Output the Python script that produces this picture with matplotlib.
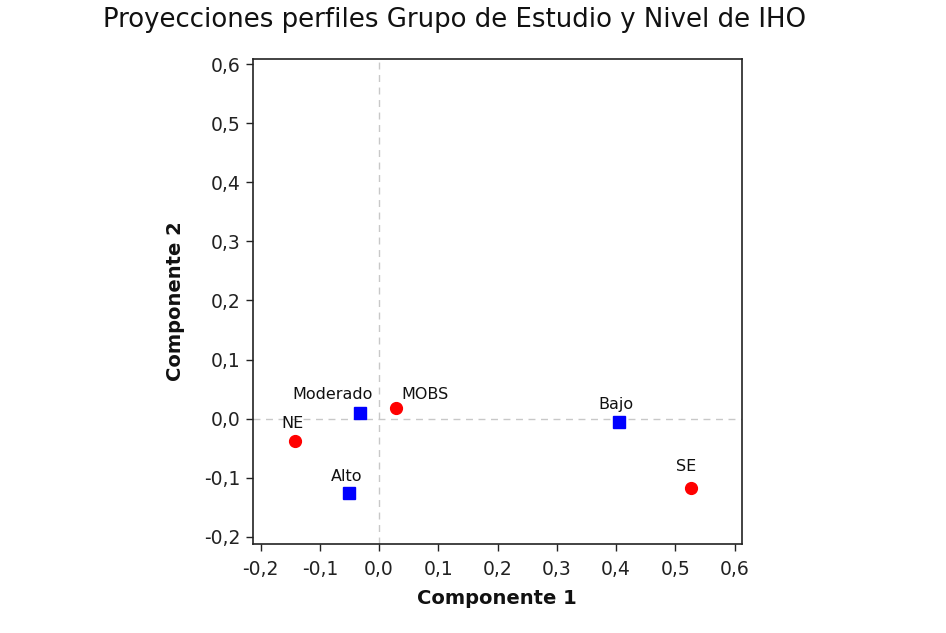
import matplotlib.pyplot as plt
from matplotlib.ticker import FuncFormatter, MultipleLocator

# Perfiles de Grupo de Estudio (círculos rojos)
grupos = ['NE', 'MOBS', 'SE']
grupos_x = [-0.142, 0.028, 0.526]
grupos_y = [-0.038, 0.018, -0.117]

# Perfiles de Nivel de IHO (cuadrados azules)
niveles = ['Moderado', 'Alto', 'Bajo']
niveles_x = [-0.032, -0.051, 0.405]
niveles_y = [0.010, -0.126, -0.006]

# desplazamiento de cada etiqueta (pt) respecto a su punto
offs_grupos = [(-2, 9.6), (21, 6.5), (-3, 12)]
offs_niveles = [(-20, 10), (-1.5, 8.9), (-2, 9.6)]

plt.rcParams['font.family'] = ['DejaVu Sans']

fig = plt.figure(figsize=(9.46, 6.33), dpi=100)
ax = fig.add_axes([0.267, 0.1406, 0.517, 0.7662])

ax.axhline(0, color='#c8c8c8', lw=1, ls=(0, (5, 4)), zorder=1)
ax.axvline(0, color='#c8c8c8', lw=1, ls=(0, (5, 4)), zorder=1)

ax.plot(grupos_x, grupos_y, 'o', color='#ff0000', ms=8.5, mec='#ff0000', ls='none', zorder=3)
ax.plot(niveles_x, niveles_y, 's', color='#0000ff', ms=8, mec='#0000ff', ls='none', zorder=3)

for nombre, x, y, off in zip(grupos, grupos_x, grupos_y, offs_grupos):
    ax.annotate(nombre, (x, y), xytext=off, textcoords='offset points',
                ha='center', va='baseline', fontsize=11.5, color='#111111')
for nombre, x, y, off in zip(niveles, niveles_x, niveles_y, offs_niveles):
    ax.annotate(nombre, (x, y), xytext=off, textcoords='offset points',
                ha='center', va='baseline', fontsize=11.5, color='#111111')

ax.set_xlim(-0.2135, 0.612)
ax.set_ylim(-0.2125, 0.609)
ax.xaxis.set_major_locator(MultipleLocator(0.1))
ax.yaxis.set_major_locator(MultipleLocator(0.1))
coma = FuncFormatter(lambda v, p: f'{v:.1f}'.replace('.', ',').replace('-0,0', '0,0'))
ax.xaxis.set_major_formatter(coma)
ax.yaxis.set_major_formatter(coma)
ax.tick_params(direction='out', length=5, width=1, labelsize=13.5, colors='#222222',
               top=False, right=False)
ax.tick_params(axis='x', pad=6.5)

for s in ax.spines.values():
    s.set_color('#222222')
    s.set_linewidth(1.2)

ax.set_xlabel('Componente 1', fontsize=14, fontweight='bold', labelpad=7.5, color='#111111')
ax.set_ylabel('Componente 2', fontsize=14, fontweight='bold', labelpad=14, color='#111111')

fig.text(0.48, 0.968, 'Proyecciones perfiles Grupo de Estudio y Nivel de IHO',
         ha='center', va='center', fontsize=18.7, color='#111111')

fig.savefig('out.png', dpi=100)
